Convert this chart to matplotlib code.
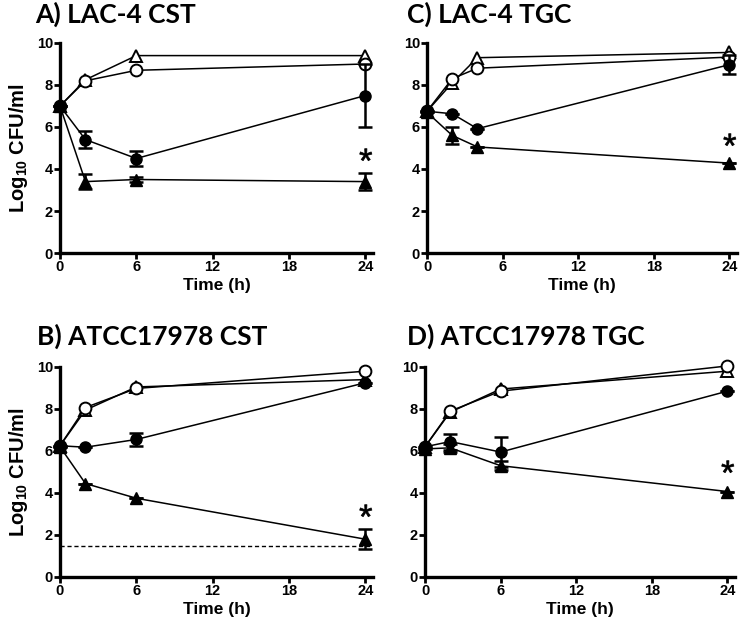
import numpy as np
import matplotlib
matplotlib.use('Agg')
import matplotlib.pyplot as plt
from matplotlib.textpath import TextPath
from matplotlib.font_manager import FontProperties
from matplotlib.path import Path

plt.rcParams['font.family'] = ['Liberation Sans', 'DejaVu Sans']
plt.rcParams['font.weight'] = 'bold'
plt.rcParams['mathtext.default'] = 'regular'

# panel data: times, open triangle, open circle, filled circle (+err), filled triangle (+err)
titles = ['A) LAC-4 CST', 'C) LAC-4 TGC', 'B) ATCC17978 CST', 'D) ATCC17978 TGC']

t_A = [0, 2, 6, 24]
otri_A = [7.0, 8.25, 9.4, 9.4]
ocir_A = [7.0, 8.2, 8.7, 9.0]
fcir_A = [7.0, 5.4, 4.5, 7.5]
fcir_err_A = [0, 0.4, 0.35, 1.5]
ftri_A = [7.0, 3.4, 3.5, 3.4]
ftri_err_A = [0, 0.35, 0.1, 0.42]
star_A = 4.45

t_C = [0, 2, 4, 24]
otri_C = [6.75, 8.1, 9.3, 9.55]
ocir_C = [6.75, 8.3, 8.8, 9.33]
fcir_C = [6.75, 6.63, 5.92, 8.97]
fcir_err_C = [0, 0, 0, 0.45]
ftri_C = [6.7, 5.6, 5.05, 4.28]
ftri_err_C = [0, 0.42, 0, 0]
star_C = 5.15

t_B = [0, 2, 6, 24]
otri_B = [6.25, 7.95, 9.05, 9.4]
ocir_B = [6.25, 8.07, 8.98, 9.8]
fcir_B = [6.25, 6.18, 6.55, 9.25]
fcir_err_B = [0, 0, 0.3, 0]
ftri_B = [6.2, 4.45, 3.75, 1.8]
ftri_err_B = [0, 0, 0, 0.48]
star_B = 2.9
lod_B = 1.5

t_D = [0, 2, 6, 24]
otri_D = [6.2, 7.85, 8.95, 9.8]
ocir_D = [6.2, 7.9, 8.85, 10.05]
fcir_D = [6.2, 6.45, 5.95, 8.85]
fcir_err_D = [0, 0.38, 0.72, 0]
ftri_D = [6.1, 6.15, 5.3, 4.07]
ftri_err_D = [0, 0.2, 0.22, 0]
star_D = 5.0

panels = [
    (t_A, otri_A, ocir_A, fcir_A, fcir_err_A, ftri_A, ftri_err_A, star_A, None),
    (t_C, otri_C, ocir_C, fcir_C, fcir_err_C, ftri_C, ftri_err_C, star_C, None),
    (t_B, otri_B, ocir_B, fcir_B, fcir_err_B, ftri_B, ftri_err_B, star_B, lod_B),
    (t_D, otri_D, ocir_D, fcir_D, fcir_err_D, ftri_D, ftri_err_D, star_D, None),
]

# asterisk marker built from a normal-weight glyph, centred on its own box
tp = TextPath((0, 0), '*', prop=FontProperties(family='Liberation Sans', weight='normal'))
v = tp.vertices.copy()
v -= (v.min(axis=0) + v.max(axis=0)) / 2
star_marker = Path(v, tp.codes)

# axes rectangles in figure fraction (left, bottom, width, height)
W, H = 750, 625
rects = [
    (60 / W, 1 - 253 / H, 313 / W, 210 / H),
    (427 / W, 1 - 253 / H, 310 / W, 210 / H),
    (60 / W, 1 - 577 / H, 313 / W, 210 / H),
    (425 / W, 1 - 577 / H, 310 / W, 210 / H),
]
title_pos = [(35, 23), (407, 23), (37, 345), (407, 345)]

fig = plt.figure(figsize=(7.5, 6.25), dpi=100)

for i, (p, r) in enumerate(zip(panels, rects)):
    t, otri, ocir, fcir, fcir_err, ftri, ftri_err, star, lod = p
    ax = fig.add_axes(r)
    lw = 1.1
    ax.errorbar(t, fcir, yerr=fcir_err, color='black', lw=lw, marker='o', ms=8,
                elinewidth=1.8, capsize=5, capthick=1.8, clip_on=False, zorder=4)
    ax.errorbar(t, ftri, yerr=ftri_err, color='black', lw=lw, marker='^', ms=8.5,
                elinewidth=1.8, capsize=5, capthick=1.8, clip_on=False, zorder=4)
    ax.plot(t, otri, color='black', lw=lw, marker='^', ms=9, mfc='white', mew=1.4,
            clip_on=False, zorder=3)
    ax.plot(t, ocir, color='black', lw=lw, marker='o', ms=8.5, mfc='white', mew=1.4,
            clip_on=False, zorder=3)
    # significance asterisk
    ax.plot([t[-1]], [star], ls='none', marker=star_marker, ms=17,
            color='black', mew=0.5, zorder=5)
    if lod is not None:
        ax.axhline(lod, color='black', lw=1, ls=(0, (3, 2)), zorder=2)

    ax.set_xlim(0, 24.6)
    ax.set_ylim(0, 10)
    ax.set_xticks([0, 6, 12, 18, 24])
    ax.set_yticks([0, 2, 4, 6, 8, 10])
    for s in ['top', 'right']:
        ax.spines[s].set_visible(False)
    for s in ['left', 'bottom']:
        ax.spines[s].set_linewidth(2.4)
    ax.tick_params(width=2, length=4, labelsize=10.5, pad=1)
    for lab in ax.get_xticklabels() + ax.get_yticklabels():
        lab.set_fontweight('bold')
    ax.set_xlabel('Time (h)', fontsize=12.5, fontweight='bold', labelpad=3)
    if i in (0, 2):
        ax.set_ylabel('Log$_{10}$ CFU/ml', fontsize=14.5, fontweight='bold', labelpad=5)

    tx, ty = title_pos[i]
    fig.text(tx / W, 1 - ty / H, titles[i], fontsize=19, fontweight='bold',
             family=['Lato', 'DejaVu Sans'], ha='left', va='baseline')

fig.savefig('out.png', dpi=100)
